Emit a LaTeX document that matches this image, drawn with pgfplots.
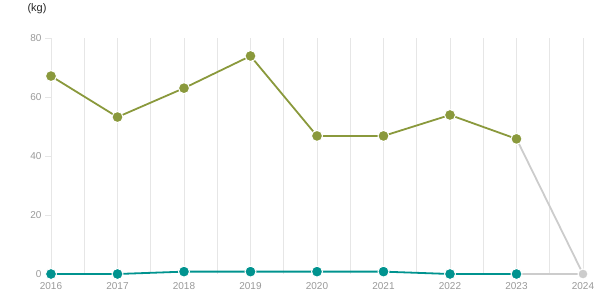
\documentclass[border=0pt]{standalone}
\usepackage{pgfplots}
\pgfplotsset{compat=1.18}
\usepackage{fontspec}
\setmainfont{Liberation Sans}
\definecolor{olive}{HTML}{8A993C}
\definecolor{teal2}{HTML}{00938F}
\definecolor{lgray}{HTML}{CCCCCC}
\definecolor{gridc}{HTML}{E6E6E6}
\definecolor{tickc}{HTML}{999999}
\begin{document}
\begin{tikzpicture}
\useasboundingbox (0pt,0pt) rectangle (615pt,305pt);
\node[anchor=west,text=black!85,font=\fontsize{11}{13}\selectfont] at (24pt,296pt) {(kg)};
\begin{axis}[
  at={(51pt,31pt)}, anchor=south west,
  scale only axis, width=532pt, height=236pt,
  xmin=2016, xmax=2024, ymin=0, ymax=80,
  clip=false,
  axis line style={draw=none},
  xtick={2016,...,2024},
  minor xtick={2016.5,2017.5,...,2023.5},
  xticklabel style={/pgf/number format/1000 sep={}},
  ytick={0,20,40,60,80},
  xmajorgrids, xminorgrids,
  major grid style={draw=gridc, line width=0.8pt},
  minor grid style={draw=gridc, line width=0.8pt},
  major x tick style={draw=none},
  minor x tick style={draw=none},
  ytick style={draw=gridc, line width=0.8pt},
  major tick length=6pt,
  tick align=outside,
  ytick pos=left, xtick pos=bottom,
  tick label style={text=tickc, font=\fontsize{10}{12}\selectfont},
  /pgf/number format/assume math mode=true,
  xticklabel style={yshift=1pt},
]
\addplot[lgray, line width=1.8pt, mark=*, mark size=5pt, mark options={draw=white, line width=1pt, fill=lgray}] coordinates {(2023,45.8) (2024,0)};
\addplot[lgray, line width=1.8pt] coordinates {(2023,0) (2024,0)};
\addplot[olive, line width=1.8pt, mark=*, mark size=5.5pt, mark options={draw=white, line width=1pt, fill=olive}] coordinates {
(2016,67.1) (2017,53.2) (2018,63.0) (2019,73.9) (2020,46.8) (2021,46.8) (2022,53.9) (2023,45.8)};
\addplot[teal2, line width=1.8pt, mark=*, mark size=5.5pt, mark options={draw=white, line width=1pt, fill=teal2}] coordinates {
(2016,0) (2017,0) (2018,0.8) (2019,0.8) (2020,0.8) (2021,0.8) (2022,0) (2023,0)};
\end{axis}
\end{tikzpicture}
\end{document}
